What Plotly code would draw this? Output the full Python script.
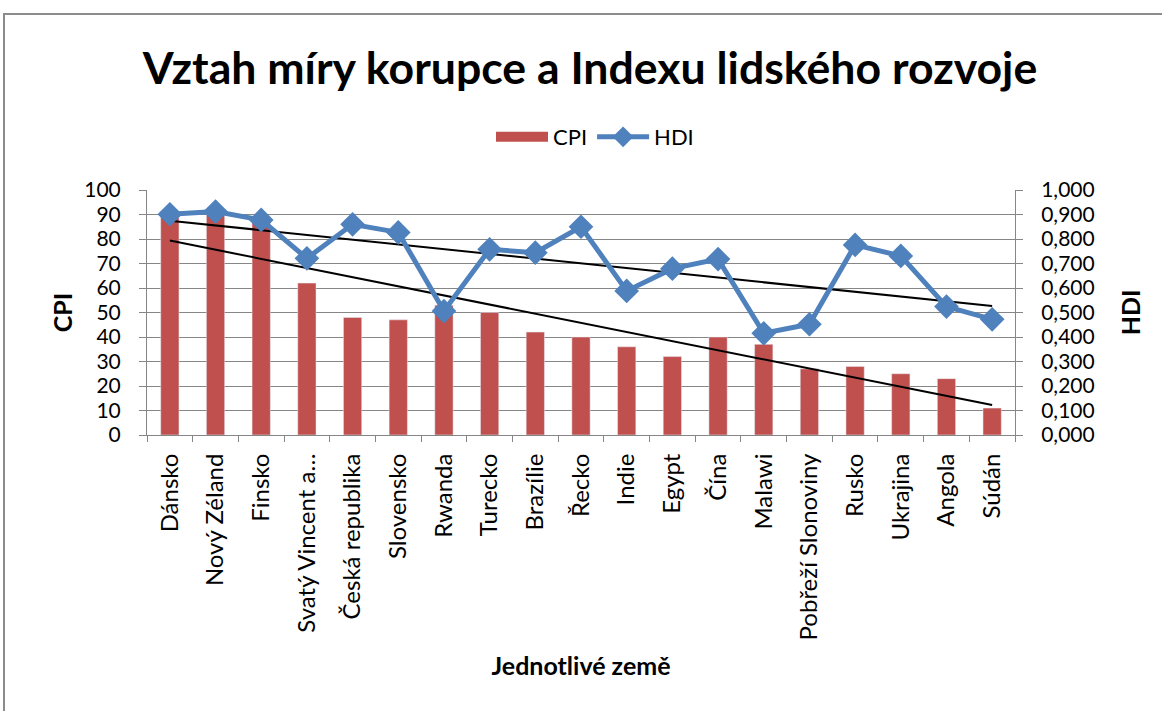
import numpy as np
import plotly.graph_objects as go

countries = ["Dánsko", "Nový Zéland", "Finsko", "Svatý Vincent a…", "Česká republika",
             "Slovensko", "Rwanda", "Turecko", "Brazílie", "Řecko", "Indie", "Egypt",
             "Čína", "Malawi", "Pobřeží Slonoviny", "Rusko", "Ukrajina", "Angola", "Súdán"]
cpi = [90, 91, 88, 62, 48, 47, 53, 50, 42, 40, 36, 32, 40, 37, 27, 28, 25, 23, 11]
hdi = [0.901, 0.912, 0.878, 0.721, 0.860, 0.827, 0.506, 0.758, 0.744, 0.850, 0.588,
       0.679, 0.718, 0.415, 0.452, 0.776, 0.731, 0.524, 0.472]

idx = np.arange(1, len(countries) + 1)
cpi_fit = np.polyval(np.polyfit(idx, cpi, 1), idx)
hdi_fit = np.polyval(np.polyfit(idx, hdi, 1), idx)

FONT = "Lato"
GRID = "#868686"
RED = "#C0504D"
BLUE = "#4F81BD"

fig = go.Figure()
fig.add_trace(go.Bar(x=countries, y=cpi, name="CPI", marker_color=RED,
                     width=0.4, yaxis="y", showlegend=False))
# legend-only entry giving the wide red rectangle swatch
fig.add_trace(go.Scatter(x=[None], y=[None], name="CPI", mode="lines",
                         line=dict(color=RED, width=15), yaxis="y"))
fig.add_trace(go.Scatter(x=countries, y=cpi_fit, mode="lines", showlegend=False,
                         line=dict(color="black", width=2), yaxis="y", hoverinfo="skip"))
fig.add_trace(go.Scatter(x=countries, y=hdi_fit, mode="lines", showlegend=False,
                         line=dict(color="black", width=2), yaxis="y2", hoverinfo="skip"))
fig.add_trace(go.Scatter(x=countries, y=hdi, name="HDI", mode="lines+markers",
                         line=dict(color=BLUE, width=5),
                         marker=dict(symbol="diamond", size=19, color=BLUE),
                         yaxis="y2"))

W, H = 1162, 711
L, R, T, B = 147, 1015, 190, 435
pw, ph = R - L, B - T

fig.update_layout(
    width=W, height=H,
    margin=dict(l=L, r=W - R, t=T, b=H - B, autoexpand=False),
    paper_bgcolor="white", plot_bgcolor="white",
    separators=", ",
    font=dict(family=FONT, color="black", size=22),
    title=dict(text="<b>Vztah míry korupce a Indexu lidského rozvoje</b>",
               x=0.5 + 9 / W, xanchor="center", y=1 - 68 / H, yanchor="middle",
               font=dict(family=FONT, size=44.6, color="black")),
    legend=dict(orientation="h", x=0.5 + 14 / pw, xanchor="center", y=1 + (T - 137) / ph,
                yanchor="middle", font=dict(size=22), bgcolor="rgba(0,0,0,0)",
                traceorder="normal", itemwidth=52),
    xaxis=dict(
        range=[-0.5, len(countries) - 0.5],
        showgrid=False, showline=True, linecolor=GRID, linewidth=1,
        ticks="outside", tickson="boundaries", ticklen=6, tickcolor=GRID,
        tickangle=-90, tickfont=dict(size=24), ticklabelstandoff=8,
        title=dict(text="<b>Jednotlivé země</b>", font=dict(size=25), standoff=18),
    ),
    yaxis=dict(
        range=[0, 100], dtick=10, showgrid=True, gridcolor=GRID, gridwidth=1,
        showline=True, linecolor=GRID, ticks="outside", ticklen=7, tickcolor=GRID,
        tickfont=dict(size=21), zeroline=False, ticklabelstandoff=14,
        title=dict(text="<b>CPI</b>", font=dict(size=25), standoff=4),
    ),
    yaxis2=dict(
        range=[0, 1], dtick=0.1, tickformat=".3f", overlaying="y", side="right",
        showgrid=False, showline=True, linecolor=GRID, ticks="outside", ticklen=7,
        tickcolor=GRID, tickfont=dict(size=21), zeroline=False, ticklabelstandoff=14,
        title=dict(text="<b>HDI</b>", font=dict(size=25), standoff=28),
    ),
    shapes=[dict(type="rect", xref="paper", yref="paper",
                 x0=(4 - L) / pw, x1=(W + 20 - L) / pw,
                 y0=(B - (H + 20)) / ph, y1=(B - 14) / ph,
                 line=dict(color="#8C8C8C", width=2), fillcolor="rgba(0,0,0,0)",
                 layer="below")],
)

fig.write_html("out.html", config={"displayModeBar": False},
               post_script="document.body.style.margin='0';")
